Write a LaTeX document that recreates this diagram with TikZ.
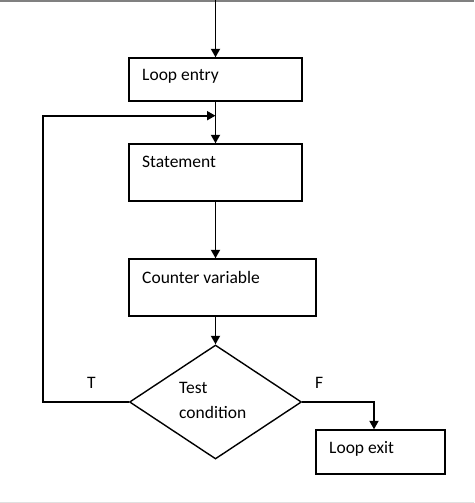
\documentclass[tikz,border=0pt]{standalone}
\usepackage{fontspec}
\setmainfont{Carlito}
\usetikzlibrary{arrows.meta,shapes.geometric}
\begin{document}
\begin{tikzpicture}[x=1pt,y=-1pt,
  box/.style={draw=black,line width=1.4pt,rectangle,inner sep=0pt},
  lbl/.style={anchor=west,font=\fontsize{17.5}{19}\selectfont,inner sep=0pt},
  conn/.style={line width=1.8pt,-{Triangle[length=8.5pt,width=9pt]}}]
\useasboundingbox (0,0) rectangle (474,503);
\fill[gray] (0,0) rectangle (474,2);
\draw[black!12,line width=1pt] (0,502) -- (474,502);
% boxes
\node[box,minimum width=173pt,minimum height=43pt] (entry) at (215.5,79.5) {};
\node[box,minimum width=173pt,minimum height=57pt] (stmt) at (215.5,172.5) {};
\node[box,minimum width=187pt,minimum height=57pt] (counter) at (222.5,287.5) {};
\node[draw=black,line width=1.4pt,diamond,minimum width=172pt,minimum height=114pt,inner sep=0pt,aspect=1.5] (test) at (215.5,402) {};
\node[box,minimum width=129pt,minimum height=44pt] (exit) at (380.5,452) {};
% labels
\node[lbl] (tentry) at (142,76) {Loop entry};
\node[lbl] (tstmt) at (142,162) {Statement};
\node[lbl] (tcounter) at (142,277) {Counter variable};
\node[lbl] (ttest1) at (179,388) {Test};
\node[lbl] (ttest2) at (179,412) {condition};
\node[lbl] (texit) at (329,449) {Loop exit};
\node[lbl] (tT) at (87,383) {T};
\node[lbl] (tF) at (315,383) {F};
% coordinates
\coordinate (start) at (215.5,0);
\coordinate (lb) at (43,402);
\coordinate (lt) at (43,115.7);
\coordinate (join) at (215.5,115.7);
\coordinate (fr) at (374,402);
% connectors
\draw[conn] (start) -- (entry.north);
\draw[conn] (entry.south) -- (stmt.north);
\draw[conn] (test.west) -- (lb) -- (lt) -- (join);
\draw[conn] (stmt.south) -- (counter.north -| stmt.south);
\draw[conn] (counter.south -| test.north) -- (test.north);
\draw[conn] (test.east) -- (fr) -- (exit.north -| fr);
\end{tikzpicture}
\end{document}
